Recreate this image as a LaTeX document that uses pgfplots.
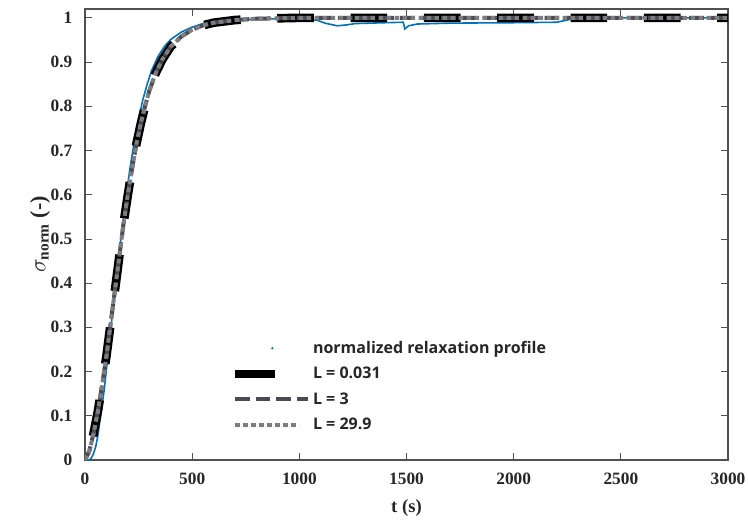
\documentclass[border=0pt]{standalone}
\usepackage{amsmath}
\usepackage{fontspec}
\setmainfont{Liberation Serif}
\newfontfamily\legfont{Open Sans}
\usepackage{pgfplots}
\pgfplotsset{compat=1.18}
\definecolor{mblue}{RGB}{0,114,189}
\definecolor{dgray}{RGB}{75,75,85}
\definecolor{mgray}{RGB}{125,125,128}
\definecolor{axgray}{RGB}{80,80,80}
\pgfplotstableread{
t y
0 0
20 0.02
40 0.06
60 0.11
80 0.17
100 0.235
120 0.31
140 0.385
160 0.46
180 0.535
200 0.6
220 0.66
240 0.715
260 0.76
280 0.80
300 0.835
330 0.875
360 0.905
400 0.935
450 0.958
500 0.973
550 0.983
600 0.989
700 0.995
800 0.998
1000 1.0
3000 1.0
}\fitdata
\begin{document}
\begin{tikzpicture}
\path[use as bounding box] (-63.75pt,-45.75pt) rectangle (497.25pt,345pt);
\begin{axis}[
  at={(0,0)}, anchor=south west,
  scale only axis,
  width=482.25pt, height=338.25pt,
  xmin=0, xmax=3000, ymin=0, ymax=1.02,
  xtick={0,500,1000,1500,2000,2500,3000},
  ytick={0,0.1,0.2,0.3,0.4,0.5,0.6,0.7,0.8,0.9,1},
  yticklabels={0,0.1,0.2,0.3,0.4,0.5,0.6,0.7,0.8,0.9,1},
  xticklabels={0,500,1000,1500,2000,2500,3000},
  tick align=inside,
  tick style={axgray, line width=0.6pt},
  major tick length=5pt,
  axis line style={axgray, line width=0.8pt},
  ticklabel style={font=\bfseries\fontsize{13}{15}\selectfont, text=black!85},
  yticklabel style={xshift=-6pt},
  xticklabel style={yshift=-6pt},
  scaled ticks=false,
  xlabel={\bfseries t (s)},
  ylabel={$\sigma_{\text{\bfseries norm}}$ \bfseries (-)},
  label style={text=black!85},
  xlabel style={font=\fontsize{14}{16}\selectfont, at={(0.5,0)}, anchor=center, yshift=-36pt},
  ylabel style={font=\fontsize{16.5}{18}\selectfont, at={(0,0.5)}, anchor=center, yshift=33.75pt},
  legend style={draw=none, fill=none, at={(0.22,0.276)}, anchor=north west,
    font=\legfont\bfseries\fontsize{12}{14}\selectfont, row sep=4.8pt, text=black!85,
    /tikz/every even column/.append style={column sep=1pt}},
  legend cell align=left,
]
\addplot[mblue, line width=1.2pt,
  legend image code/.code={\fill[mblue, draw=none] (28pt,0) circle (0.9pt); \path[draw=none, fill=none] (0,0) -- (55pt,0);}]
coordinates {
(0,0) (20,0) (30,0.005) (40,0.015) (50,0.03) (60,0.055) (70,0.09) (80,0.125) (90,0.16) (100,0.205) (110,0.25) (120,0.295) (130,0.34) (140,0.385) (150,0.43) (160,0.47) (170,0.51) (180,0.55) (190,0.59) (200,0.625) (210,0.66) (220,0.69) (230,0.72) (240,0.745) (250,0.77) (270,0.815) (290,0.85) (310,0.88) (340,0.912) (370,0.935) (400,0.951) (450,0.968) (500,0.979) (550,0.987) (600,0.991) (700,0.995) (800,0.997) (900,0.998) (1000,0.997) (1080,0.995) (1120,0.988) (1176,0.982) (1220,0.984) (1260,0.987) (1400,0.989) (1485,0.99) (1492,0.975) (1510,0.982) (1550,0.986) (1700,0.988) (2000,0.989) (2200,0.99) (2250,0.995) (2300,1.002) (2400,1.0) (3000,1.0)
};
\addlegendentry{normalized relaxation profile}
\addplot[black, line width=6.5pt, dash pattern=on 27.5pt off 27.5pt, dash phase=36pt,
  legend image code/.code={\draw[black, line width=6.5pt, dash pattern=on 30pt off 0pt] (0pt,0) -- (30pt,0); \path[draw=none] (0,0) -- (55pt,0);}]
table {\fitdata};
\addlegendentry{L = 0.031}
\addplot[dgray, line width=3pt, dash pattern=on 11pt off 4.5pt,
  legend image code/.code={\draw[dgray, line width=3pt, dash pattern=on 11pt off 4.5pt] (0pt,0) -- (55pt,0);}]
table {\fitdata};
\addlegendentry{L = 3}
\addplot[mgray, line width=3pt, dash pattern=on 3.5pt off 2.5pt,
  legend image code/.code={\draw[mgray, line width=3pt, dash pattern=on 3.5pt off 2.5pt] (0pt,0) -- (48pt,0); \path[draw=none] (0,0) -- (55pt,0);}]
table {\fitdata};
\addlegendentry{L = 29.9}
\end{axis}
\end{tikzpicture}
\end{document}
